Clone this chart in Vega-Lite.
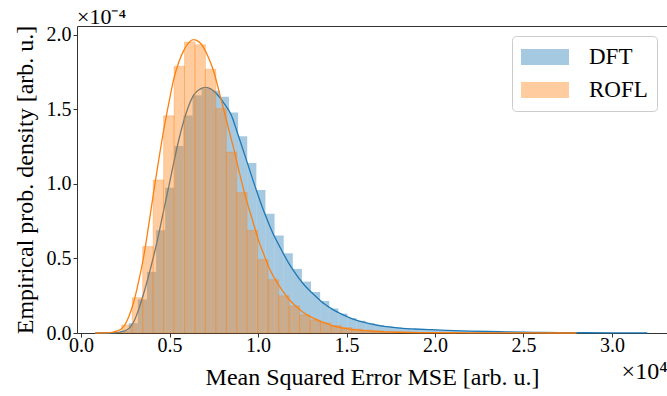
{
  "$schema": "https://vega.github.io/schema/vega-lite/v6.json",
  "width": 590,
  "height": 307,
  "autosize": {"type": "none"},
  "padding": {"left": 77, "top": 26, "right": 0, "bottom": 63},
  "background": "white",
  "title": {"text": "×10⁻⁴", "anchor": "start", "frame": "group", "fontSize": 22, "fontWeight": "normal", "color": "#000", "offset": 0, "baseline": "bottom", "dy": 26},
  "config": {
    "font": "Liberation Serif",
    "view": {"stroke": "#333", "strokeWidth": 1},
    "axis": {"labelFontSize": 20, "titleFontSize": 24, "titleFontWeight": "normal", "labelColor": "#000", "titleColor": "#000", "grid": false, "domain": false, "tickColor": "#333", "tickSize": 4},
    "legend": {"orient": "top-right", "offset": 10, "padding": 9, "labelFontSize": 23, "labelColor": "#000", "symbolType": "M-1,-0.667H3V0.667H-1Z", "symbolSize": 576, "symbolOpacity": 0.4, "symbolStrokeWidth": 0, "labelOffset": 44, "rowPadding": 9, "strokeColor": "#cccccc", "fillColor": "rgba(255,255,255,0.8)", "cornerRadius": 4}
  },
  "datasets": {
    "bars": [
      {"series": "DFT", "start": 0.218, "end": 0.2695, "density": 0.015},
      {"series": "DFT", "start": 0.2695, "end": 0.321, "density": 0.066},
      {"series": "DFT", "start": 0.321, "end": 0.3725, "density": 0.225},
      {"series": "DFT", "start": 0.3725, "end": 0.424, "density": 0.41},
      {"series": "DFT", "start": 0.424, "end": 0.4755, "density": 0.69},
      {"series": "DFT", "start": 0.4755, "end": 0.527, "density": 0.975},
      {"series": "DFT", "start": 0.527, "end": 0.5785, "density": 1.255},
      {"series": "DFT", "start": 0.5785, "end": 0.63, "density": 1.46},
      {"series": "DFT", "start": 0.63, "end": 0.6815, "density": 1.595},
      {"series": "DFT", "start": 0.6815, "end": 0.733, "density": 1.64},
      {"series": "DFT", "start": 0.733, "end": 0.7845, "density": 1.625},
      {"series": "DFT", "start": 0.7845, "end": 0.836, "density": 1.585},
      {"series": "DFT", "start": 0.836, "end": 0.8875, "density": 1.48},
      {"series": "DFT", "start": 0.8875, "end": 0.939, "density": 1.32},
      {"series": "DFT", "start": 0.939, "end": 0.9905, "density": 1.14},
      {"series": "DFT", "start": 0.9905, "end": 1.042, "density": 0.96},
      {"series": "DFT", "start": 1.042, "end": 1.0935, "density": 0.8},
      {"series": "DFT", "start": 1.0935, "end": 1.145, "density": 0.655},
      {"series": "DFT", "start": 1.145, "end": 1.1965, "density": 0.535},
      {"series": "DFT", "start": 1.1965, "end": 1.248, "density": 0.43},
      {"series": "DFT", "start": 1.248, "end": 1.2995, "density": 0.345},
      {"series": "DFT", "start": 1.2995, "end": 1.351, "density": 0.275},
      {"series": "DFT", "start": 1.351, "end": 1.4025, "density": 0.215},
      {"series": "DFT", "start": 1.4025, "end": 1.454, "density": 0.165},
      {"series": "DFT", "start": 1.454, "end": 1.5055, "density": 0.13},
      {"series": "DFT", "start": 1.5055, "end": 1.557, "density": 0.1},
      {"series": "DFT", "start": 1.557, "end": 1.6085, "density": 0.082},
      {"series": "DFT", "start": 1.6085, "end": 1.66, "density": 0.066},
      {"series": "DFT", "start": 1.66, "end": 1.7115, "density": 0.053},
      {"series": "DFT", "start": 1.7115, "end": 1.763, "density": 0.044},
      {"series": "DFT", "start": 1.763, "end": 1.8145, "density": 0.037},
      {"series": "DFT", "start": 1.8145, "end": 1.866, "density": 0.032},
      {"series": "DFT", "start": 1.866, "end": 1.9175, "density": 0.027},
      {"series": "DFT", "start": 1.9175, "end": 1.969, "density": 0.023},
      {"series": "DFT", "start": 1.969, "end": 2.0205, "density": 0.02},
      {"series": "DFT", "start": 2.0205, "end": 2.072, "density": 0.018},
      {"series": "DFT", "start": 2.072, "end": 2.1235, "density": 0.016},
      {"series": "DFT", "start": 2.1235, "end": 2.175, "density": 0.014},
      {"series": "DFT", "start": 2.175, "end": 2.2265, "density": 0.012},
      {"series": "DFT", "start": 2.2265, "end": 2.278, "density": 0.011},
      {"series": "DFT", "start": 2.278, "end": 2.3295, "density": 0.0095},
      {"series": "DFT", "start": 2.3295, "end": 2.381, "density": 0.008},
      {"series": "DFT", "start": 2.381, "end": 2.4325, "density": 0.007},
      {"series": "DFT", "start": 2.4325, "end": 2.484, "density": 0.006},
      {"series": "DFT", "start": 2.484, "end": 2.5355, "density": 0.005},
      {"series": "DFT", "start": 2.5355, "end": 2.587, "density": 0.0045},
      {"series": "DFT", "start": 2.587, "end": 2.6385, "density": 0.004},
      {"series": "DFT", "start": 2.6385, "end": 2.69, "density": 0.003},
      {"series": "DFT", "start": 2.69, "end": 2.7415, "density": 0.0025},
      {"series": "DFT", "start": 2.7415, "end": 2.793, "density": 0.002},
      {"series": "DFT", "start": 2.793, "end": 2.8445, "density": 0.0017},
      {"series": "DFT", "start": 2.8445, "end": 2.896, "density": 0.0014},
      {"series": "DFT", "start": 2.896, "end": 2.9475, "density": 0.0012},
      {"series": "ROFL", "start": 0.1709, "end": 0.23, "density": 0.004},
      {"series": "ROFL", "start": 0.23, "end": 0.2891, "density": 0.054},
      {"series": "ROFL", "start": 0.2891, "end": 0.3482, "density": 0.237},
      {"series": "ROFL", "start": 0.3482, "end": 0.4073, "density": 0.58},
      {"series": "ROFL", "start": 0.4073, "end": 0.4664, "density": 1.027},
      {"series": "ROFL", "start": 0.4664, "end": 0.5255, "density": 1.457},
      {"series": "ROFL", "start": 0.5255, "end": 0.5846, "density": 1.79},
      {"series": "ROFL", "start": 0.5846, "end": 0.6437, "density": 1.953},
      {"series": "ROFL", "start": 0.6437, "end": 0.7028, "density": 1.934},
      {"series": "ROFL", "start": 0.7028, "end": 0.7619, "density": 1.77},
      {"series": "ROFL", "start": 0.7619, "end": 0.821, "density": 1.507},
      {"series": "ROFL", "start": 0.821, "end": 0.8801, "density": 1.214},
      {"series": "ROFL", "start": 0.8801, "end": 0.9392, "density": 0.944},
      {"series": "ROFL", "start": 0.9392, "end": 0.9983, "density": 0.689},
      {"series": "ROFL", "start": 0.9983, "end": 1.0574, "density": 0.493},
      {"series": "ROFL", "start": 1.0574, "end": 1.1165, "density": 0.358},
      {"series": "ROFL", "start": 1.1165, "end": 1.1756, "density": 0.25},
      {"series": "ROFL", "start": 1.1756, "end": 1.2347, "density": 0.182},
      {"series": "ROFL", "start": 1.2347, "end": 1.2938, "density": 0.122},
      {"series": "ROFL", "start": 1.2938, "end": 1.3529, "density": 0.088},
      {"series": "ROFL", "start": 1.3529, "end": 1.412, "density": 0.068},
      {"series": "ROFL", "start": 1.412, "end": 1.4711, "density": 0.05},
      {"series": "ROFL", "start": 1.4711, "end": 1.5302, "density": 0.036},
      {"series": "ROFL", "start": 1.5302, "end": 1.5893, "density": 0.026},
      {"series": "ROFL", "start": 1.5893, "end": 1.6484, "density": 0.019},
      {"series": "ROFL", "start": 1.6484, "end": 1.7075, "density": 0.014},
      {"series": "ROFL", "start": 1.7075, "end": 1.7666, "density": 0.01},
      {"series": "ROFL", "start": 1.7666, "end": 1.8257, "density": 0.007},
      {"series": "ROFL", "start": 1.8257, "end": 1.8848, "density": 0.005},
      {"series": "ROFL", "start": 1.8848, "end": 1.9439, "density": 0.0035},
      {"series": "ROFL", "start": 1.9439, "end": 2.003, "density": 0.0025},
      {"series": "ROFL", "start": 2.003, "end": 2.0621, "density": 0.0018},
      {"series": "ROFL", "start": 2.0621, "end": 2.1212, "density": 0.0012}
    ],
    "kde": [
      {"series": "DFT", "x": 0.08, "density": 0},
      {"series": "DFT", "x": 0.15, "density": 0.0},
      {"series": "DFT", "x": 0.2, "density": 0.002},
      {"series": "DFT", "x": 0.242, "density": 0.012},
      {"series": "DFT", "x": 0.27, "density": 0.03},
      {"series": "DFT", "x": 0.298, "density": 0.075},
      {"series": "DFT", "x": 0.326, "density": 0.16},
      {"series": "DFT", "x": 0.355, "density": 0.27},
      {"series": "DFT", "x": 0.383, "density": 0.39},
      {"series": "DFT", "x": 0.412, "density": 0.525},
      {"series": "DFT", "x": 0.44, "density": 0.67},
      {"series": "DFT", "x": 0.468, "density": 0.83},
      {"series": "DFT", "x": 0.497, "density": 0.99},
      {"series": "DFT", "x": 0.525, "density": 1.15},
      {"series": "DFT", "x": 0.553, "density": 1.3},
      {"series": "DFT", "x": 0.582, "density": 1.43},
      {"series": "DFT", "x": 0.61, "density": 1.53},
      {"series": "DFT", "x": 0.638, "density": 1.6},
      {"series": "DFT", "x": 0.67, "density": 1.635},
      {"series": "DFT", "x": 0.704, "density": 1.648},
      {"series": "DFT", "x": 0.737, "density": 1.635},
      {"series": "DFT", "x": 0.77, "density": 1.6},
      {"series": "DFT", "x": 0.808, "density": 1.54},
      {"series": "DFT", "x": 0.846, "density": 1.47},
      {"series": "DFT", "x": 0.89, "density": 1.32},
      {"series": "DFT", "x": 0.94, "density": 1.14},
      {"series": "DFT", "x": 0.99, "density": 0.96},
      {"series": "DFT", "x": 1.035, "density": 0.81},
      {"series": "DFT", "x": 1.08, "density": 0.68},
      {"series": "DFT", "x": 1.129, "density": 0.565},
      {"series": "DFT", "x": 1.175, "density": 0.465},
      {"series": "DFT", "x": 1.223, "density": 0.38},
      {"series": "DFT", "x": 1.27, "density": 0.31},
      {"series": "DFT", "x": 1.318, "density": 0.255},
      {"series": "DFT", "x": 1.374, "density": 0.196},
      {"series": "DFT", "x": 1.412, "density": 0.165},
      {"series": "DFT", "x": 1.46, "density": 0.133},
      {"series": "DFT", "x": 1.506, "density": 0.108},
      {"series": "DFT", "x": 1.55, "density": 0.088},
      {"series": "DFT", "x": 1.601, "density": 0.071},
      {"series": "DFT", "x": 1.65, "density": 0.058},
      {"series": "DFT", "x": 1.695, "density": 0.048},
      {"series": "DFT", "x": 1.74, "density": 0.041},
      {"series": "DFT", "x": 1.789, "density": 0.035},
      {"series": "DFT", "x": 1.84, "density": 0.03},
      {"series": "DFT", "x": 1.884, "density": 0.027},
      {"series": "DFT", "x": 1.98, "density": 0.022},
      {"series": "DFT", "x": 2.072, "density": 0.018},
      {"series": "DFT", "x": 2.2, "density": 0.013},
      {"series": "DFT", "x": 2.3, "density": 0.01},
      {"series": "DFT", "x": 2.4, "density": 0.0075},
      {"series": "DFT", "x": 2.5, "density": 0.0055},
      {"series": "DFT", "x": 2.6, "density": 0.004},
      {"series": "DFT", "x": 2.7, "density": 0.0028},
      {"series": "DFT", "x": 2.85, "density": 0.0017},
      {"series": "DFT", "x": 3.0, "density": 0.001},
      {"series": "DFT", "x": 3.2, "density": 0.0004},
      {"series": "ROFL", "x": 0.08, "density": 0},
      {"series": "ROFL", "x": 0.15, "density": 0.001},
      {"series": "ROFL", "x": 0.2, "density": 0.012},
      {"series": "ROFL", "x": 0.242, "density": 0.045},
      {"series": "ROFL", "x": 0.27, "density": 0.11},
      {"series": "ROFL", "x": 0.298, "density": 0.21},
      {"series": "ROFL", "x": 0.326, "density": 0.35},
      {"series": "ROFL", "x": 0.355, "density": 0.52},
      {"series": "ROFL", "x": 0.383, "density": 0.73},
      {"series": "ROFL", "x": 0.412, "density": 0.96},
      {"series": "ROFL", "x": 0.44, "density": 1.17},
      {"series": "ROFL", "x": 0.468, "density": 1.37},
      {"series": "ROFL", "x": 0.497, "density": 1.55},
      {"series": "ROFL", "x": 0.525, "density": 1.71},
      {"series": "ROFL", "x": 0.553, "density": 1.82},
      {"series": "ROFL", "x": 0.582, "density": 1.9},
      {"series": "ROFL", "x": 0.61, "density": 1.95},
      {"series": "ROFL", "x": 0.635, "density": 1.968},
      {"series": "ROFL", "x": 0.665, "density": 1.955},
      {"series": "ROFL", "x": 0.695, "density": 1.91},
      {"series": "ROFL", "x": 0.723, "density": 1.84},
      {"series": "ROFL", "x": 0.751, "density": 1.75},
      {"series": "ROFL", "x": 0.78, "density": 1.62},
      {"series": "ROFL", "x": 0.808, "density": 1.49},
      {"series": "ROFL", "x": 0.837, "density": 1.355},
      {"series": "ROFL", "x": 0.865, "density": 1.225},
      {"series": "ROFL", "x": 0.893, "density": 1.085},
      {"series": "ROFL", "x": 0.921, "density": 0.95},
      {"series": "ROFL", "x": 0.95, "density": 0.83},
      {"series": "ROFL", "x": 0.978, "density": 0.72},
      {"series": "ROFL", "x": 1.006, "density": 0.61},
      {"series": "ROFL", "x": 1.035, "density": 0.52},
      {"series": "ROFL", "x": 1.06, "density": 0.445},
      {"series": "ROFL", "x": 1.087, "density": 0.38},
      {"series": "ROFL", "x": 1.118, "density": 0.32},
      {"series": "ROFL", "x": 1.148, "density": 0.268},
      {"series": "ROFL", "x": 1.175, "density": 0.225},
      {"series": "ROFL", "x": 1.205, "density": 0.19},
      {"series": "ROFL", "x": 1.233, "density": 0.16},
      {"series": "ROFL", "x": 1.261, "density": 0.134},
      {"series": "ROFL", "x": 1.29, "density": 0.113},
      {"series": "ROFL", "x": 1.318, "density": 0.096},
      {"series": "ROFL", "x": 1.345, "density": 0.082},
      {"series": "ROFL", "x": 1.374, "density": 0.07},
      {"series": "ROFL", "x": 1.412, "density": 0.052},
      {"series": "ROFL", "x": 1.46, "density": 0.037},
      {"series": "ROFL", "x": 1.506, "density": 0.028},
      {"series": "ROFL", "x": 1.55, "density": 0.021},
      {"series": "ROFL", "x": 1.601, "density": 0.016},
      {"series": "ROFL", "x": 1.65, "density": 0.012},
      {"series": "ROFL", "x": 1.695, "density": 0.009},
      {"series": "ROFL", "x": 1.8, "density": 0.005},
      {"series": "ROFL", "x": 1.9, "density": 0.003},
      {"series": "ROFL", "x": 2.0, "density": 0.002},
      {"series": "ROFL", "x": 2.2, "density": 0.001},
      {"series": "ROFL", "x": 2.5, "density": 0.0003},
      {"series": "ROFL", "x": 2.8, "density": 0.0001}
    ]
  },
  "resolve": {"axis": {"x": "independent"}},
  "layer": [
    {
      "data": {"name": "bars"},
      "transform": [{"filter": "datum.series === 'DFT'"}],
      "mark": {"type": "rect", "opacity": 0.4},
      "encoding": {
        "x": {"field": "start", "type": "quantitative", "scale": {"domain": [-0.023, 3.311], "nice": false, "zero": false}, "axis": {"orient": "bottom", "title": "Mean Squared Error MSE [arb. u.]", "values": [0, 0.5, 1, 1.5, 2, 2.5, 3], "format": ".1f", "labelPadding": -2, "titleY": 51, "titleBaseline": "alphabetic"}},
        "x2": {"field": "end"},
        "y": {"field": "density", "type": "quantitative", "scale": {"domain": [0, 2.06], "nice": false}, "axis": {"title": "Empirical prob. density [arb. u.]", "values": [0, 0.5, 1, 1.5, 2], "format": ".1f", "labelPadding": 2, "titleX": -52, "titleBaseline": "middle"}},
        "y2": {"datum": 0},
        "fill": {"field": "series", "type": "nominal", "scale": {"domain": ["DFT", "ROFL"], "range": ["#1f77b4", "#ff7f0e"]}, "legend": {"title": null}}
      }
    },
    {
      "data": {"name": "kde"},
      "transform": [{"filter": "datum.series === 'DFT'"}],
      "mark": {"type": "line", "strokeWidth": 1.3, "interpolate": "monotone"},
      "encoding": {
        "x": {"field": "x", "type": "quantitative", "scale": {"domain": [-0.023, 3.311], "nice": false, "zero": false}, "axis": {"orient": "bottom", "title": "×10⁴", "titleFontSize": 24, "labels": false, "ticks": false, "domain": false, "titleX": 590, "titleY": 45, "titleAlign": "right", "titleBaseline": "alphabetic", "titleAnchor": "end"}},
        "y": {"field": "density", "type": "quantitative", "scale": {"domain": [0, 2.06], "nice": false}, "axis": {"title": "Empirical prob. density [arb. u.]", "values": [0, 0.5, 1, 1.5, 2], "format": ".1f", "labelPadding": 2, "titleX": -52, "titleBaseline": "middle"}},
        "stroke": {"field": "series", "type": "nominal", "scale": {"domain": ["DFT", "ROFL"], "range": ["#1f77b4", "#ff7f0e"]}, "legend": null}
      }
    },
    {
      "data": {"name": "bars"},
      "transform": [{"filter": "datum.series === 'ROFL'"}],
      "mark": {"type": "rect", "fillOpacity": 0.4, "stroke": "#ff7f0e", "strokeOpacity": 0.45, "strokeWidth": 0.6},
      "encoding": {
        "x": {"field": "start", "type": "quantitative", "axis": null},
        "x2": {"field": "end"},
        "y": {"field": "density", "type": "quantitative", "scale": {"domain": [0, 2.06], "nice": false}, "axis": {"title": "Empirical prob. density [arb. u.]", "values": [0, 0.5, 1, 1.5, 2], "format": ".1f", "labelPadding": 2, "titleX": -52, "titleBaseline": "middle"}},
        "y2": {"datum": 0},
        "fill": {"field": "series", "type": "nominal", "legend": {"title": null}}
      }
    },
    {
      "data": {"name": "kde"},
      "transform": [{"filter": "datum.series === 'ROFL'"}],
      "mark": {"type": "line", "strokeWidth": 1.3, "interpolate": "monotone"},
      "encoding": {
        "x": {"field": "x", "type": "quantitative", "axis": null},
        "y": {"field": "density", "type": "quantitative", "scale": {"domain": [0, 2.06], "nice": false}, "axis": {"title": "Empirical prob. density [arb. u.]", "values": [0, 0.5, 1, 1.5, 2], "format": ".1f", "labelPadding": 2, "titleX": -52, "titleBaseline": "middle"}},
        "stroke": {"field": "series", "type": "nominal", "legend": null}
      }
    }
  ]
}
